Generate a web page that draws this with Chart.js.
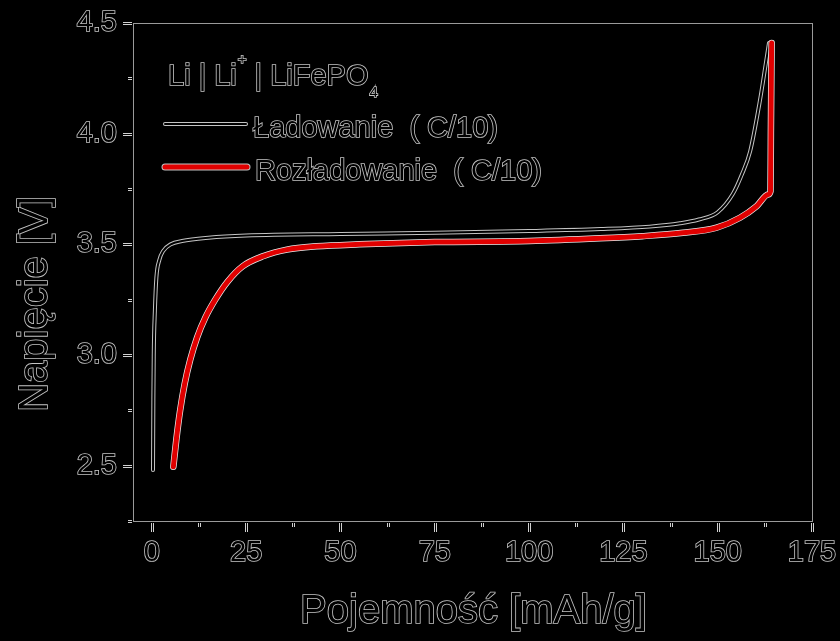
<!DOCTYPE html>
<html lang="pl">
<head>
  <meta charset="UTF-8" />
  <title>Li | Li+ | LiFePO4</title>
  <script src="https://cdn.jsdelivr.net/npm/chart.js"></script>
  <style>
    body {
      margin: 0;
      background-color: #000000;
    }
    #wrap {
      width: 840px;
      height: 641px;
    }
  </style>
</head>
<body>
  <div id="wrap">
    <canvas id="cellChart" width="840" height="641"></canvas>
  </div>

  <script>
    // charge curve (Ładowanie C/10)
    const chargeCapacity = [0.3, 0.4, 0.5, 0.8, 1.2, 2, 3, 5, 8, 15, 25, 50, 75, 100, 119, 132, 140, 145, 150, 154, 156.4, 158.6, 161.2, 162.6, 163.6];
    const chargeVoltage  = [2.48, 2.8, 3.0, 3.2, 3.35, 3.43, 3.47, 3.5, 3.515, 3.53, 3.54, 3.547, 3.552, 3.56, 3.569, 3.58, 3.595, 3.612, 3.645, 3.727, 3.815, 3.92, 4.15, 4.3, 4.41];

    // discharge curve (Rozładowanie C/10)
    const dischargeCapacity = [5.7, 6.5, 7.5, 8.7, 10.2, 12, 14.2, 16.8, 20, 24, 29.6, 35.8, 43.7, 55, 75, 100, 118.8, 130, 140.8, 149.7, 155.9, 160.3, 163.4, 164, 164.1, 164.3];
    const dischargeVoltage  = [2.495, 2.62, 2.75, 2.87, 2.98, 3.08, 3.17, 3.25, 3.33, 3.4, 3.447, 3.476, 3.491, 3.5, 3.51, 3.515, 3.527, 3.537, 3.552, 3.575, 3.62, 3.672, 3.725, 3.74, 4.0, 4.41];

    const xTicks = [0, 25, 50, 75, 100, 125, 150, 175];
    const xMinorTicks = [12.5, 37.5, 62.5, 87.5, 112.5, 137.5, 162.5];
    const yTicks = [2.5, 3.0, 3.5, 4.0, 4.5];
    const yMinorTicks = [2.25, 2.75, 3.25, 3.75, 4.25];

    const HALO = '#c4c4c4';
    const RED = '#e00000';
    const FONT = '"Liberation Sans", Arial, sans-serif';

    const toPoints = (xs, ys) => xs.map((x, i) => ({ x: x, y: ys[i] }));

    function outlinedText(ctx, text, x, y) {
      ctx.lineWidth = 1.6;
      ctx.strokeStyle = HALO;
      ctx.strokeText(text, x, y);
      ctx.fillStyle = '#000000';
      ctx.fillText(text, x, y);
    }

    function haloLine(ctx, x1, y1, x2, y2, core, width) {
      ctx.lineCap = 'round';
      ctx.strokeStyle = HALO;
      ctx.lineWidth = width + 2;
      ctx.beginPath(); ctx.moveTo(x1, y1); ctx.lineTo(x2, y2); ctx.stroke();
      ctx.strokeStyle = core;
      ctx.lineWidth = width;
      ctx.beginPath(); ctx.moveTo(x1, y1); ctx.lineTo(x2, y2); ctx.stroke();
    }

    const framePlugin = {
      id: 'frame',
      beforeDatasetsDraw(chart) {
        const ctx = chart.ctx;
        const area = chart.chartArea;
        const xs = chart.scales.x;
        const ys = chart.scales.y;
        ctx.save();
        ctx.strokeStyle = '#9a9a9a';
        ctx.lineWidth = 1;
        ctx.strokeRect(area.left + 0.5, area.top + 0.5, area.right - area.left, area.bottom - area.top);

        // tick marks, outside
        const tick = (x1, y1, x2, y2) => {
          ctx.lineCap = 'butt';
          ctx.strokeStyle = '#d0d0d0';
          ctx.lineWidth = 3;
          ctx.beginPath(); ctx.moveTo(x1, y1); ctx.lineTo(x2, y2); ctx.stroke();
          ctx.strokeStyle = '#000000';
          ctx.lineWidth = 1;
          ctx.beginPath(); ctx.moveTo(x1, y1); ctx.lineTo(x2, y2); ctx.stroke();
        };
        xTicks.forEach(v => {
          const px = Math.round(xs.getPixelForValue(v)) + 0.5;
          tick(px, area.bottom + 2, px, area.bottom + 11);
        });
        xMinorTicks.forEach(v => {
          const px = Math.round(xs.getPixelForValue(v)) + 0.5;
          tick(px, area.bottom + 2, px, area.bottom + 6);
        });
        yTicks.forEach(v => {
          const py = Math.round(ys.getPixelForValue(v)) + 0.5;
          tick(area.left - 1, py, area.left - 10, py);
        });
        yMinorTicks.forEach(v => {
          const py = Math.round(ys.getPixelForValue(v)) + 0.5;
          tick(area.left - 1, py, area.left - 5, py);
        });
        ctx.restore();
      },
      afterDraw(chart) {
        const ctx = chart.ctx;
        const area = chart.chartArea;
        ctx.save();

        // axis titles
        ctx.font = '40px ' + FONT;
        ctx.textAlign = 'center';
        ctx.textBaseline = 'alphabetic';
        outlinedText(ctx, 'Pojemność [mAh/g]', (area.left + area.right) / 2 + 1, 623);

        ctx.save();
        ctx.translate(47, 304);
        ctx.rotate(-Math.PI / 2);
        ctx.font = '40px ' + FONT;
        outlinedText(ctx, 'Napięcie [V]', 0, 0);
        ctx.restore();

        // legend block
        const lx = area.left + 35;
        ctx.textAlign = 'left';
        ctx.font = '29px ' + FONT;
        let x = lx;
        const head1 = 'Li | Li';
        outlinedText(ctx, head1, x, 85);
        x += ctx.measureText(head1).width + 1;
        ctx.font = '15px ' + FONT;
        outlinedText(ctx, '+', x, 64);
        x += ctx.measureText('+').width;
        ctx.font = '29px ' + FONT;
        const head2 = ' | LiFePO';
        outlinedText(ctx, head2, x, 85);
        x += ctx.measureText(head2).width + 1;
        ctx.font = '15px ' + FONT;
        outlinedText(ctx, '4', x, 97);

        haloLine(ctx, lx - 3, 124, lx + 78, 124, '#000000', 2);
        haloLine(ctx, lx - 3, 167, lx + 79, 167, RED, 5);

        ctx.font = '29px ' + FONT;
        outlinedText(ctx, 'Ładowanie  ( C/10)', lx + 85, 137);
        outlinedText(ctx, 'Rozładowanie  ( C/10)', lx + 87, 180);
        ctx.restore();
      }
    };

    const chargePts = toPoints(chargeCapacity, chargeVoltage);
    const dischargePts = toPoints(dischargeCapacity, dischargeVoltage);

    const lineBase = {
      pointRadius: 0,
      fill: false,
      cubicInterpolationMode: 'monotone',
      borderCapStyle: 'round',
      borderJoinStyle: 'round'
    };

    const ctx = document.getElementById('cellChart').getContext('2d');

    new Chart(ctx, {
      type: 'line',
      data: {
        datasets: [
          { ...lineBase, label: 'Rozładowanie  ( C/10)', data: dischargePts, borderColor: RED, borderWidth: 5, order: 0 },
          { ...lineBase, label: 'Rozładowanie halo', data: dischargePts, borderColor: '#e8e8e8', borderWidth: 6.5, order: 1 },
          { ...lineBase, label: 'Ładowanie  ( C/10)', data: chargePts, borderColor: '#000000', borderWidth: 2, order: 2 },
          { ...lineBase, label: 'Ładowanie halo', data: chargePts, borderColor: HALO, borderWidth: 4, order: 3 }
        ]
      },
      options: {
        responsive: false,
        animation: false,
        layout: { padding: { top: 23, right: 28, left: 0, bottom: 0 } },
        plugins: {
          legend: { display: false },
          tooltip: { enabled: false }
        },
        scales: {
          x: {
            type: 'linear',
            min: -5,
            max: 175,
            afterBuildTicks: scale => { scale.ticks = xTicks.map(v => ({ value: v })); },
            afterFit: scale => {
              scale.height = 120;
              scale.paddingLeft = 0;
              scale.paddingRight = 0;
            },
            grid: { display: false, drawTicks: false },
            border: { display: false },
            ticks: {
              color: '#000000',
              textStrokeColor: HALO,
              textStrokeWidth: 1.6,
              padding: 15,
              maxRotation: 0,
              font: { family: FONT, size: 29 }
            }
          },
          y: {
            type: 'linear',
            min: 2.25,
            max: 4.5,
            afterBuildTicks: scale => { scale.ticks = yTicks.map(v => ({ value: v })); },
            afterFit: scale => {
              scale.width = 133;
              scale.paddingTop = 0;
              scale.paddingBottom = 0;
            },
            grid: { display: false, drawTicks: false },
            border: { display: false },
            ticks: {
              color: '#000000',
              textStrokeColor: HALO,
              textStrokeWidth: 1.6,
              padding: 16,
              callback: v => Number(v).toFixed(1),
              font: { family: FONT, size: 29 }
            }
          }
        }
      },
      plugins: [framePlugin]
    });
  </script>
</body>
</html>
